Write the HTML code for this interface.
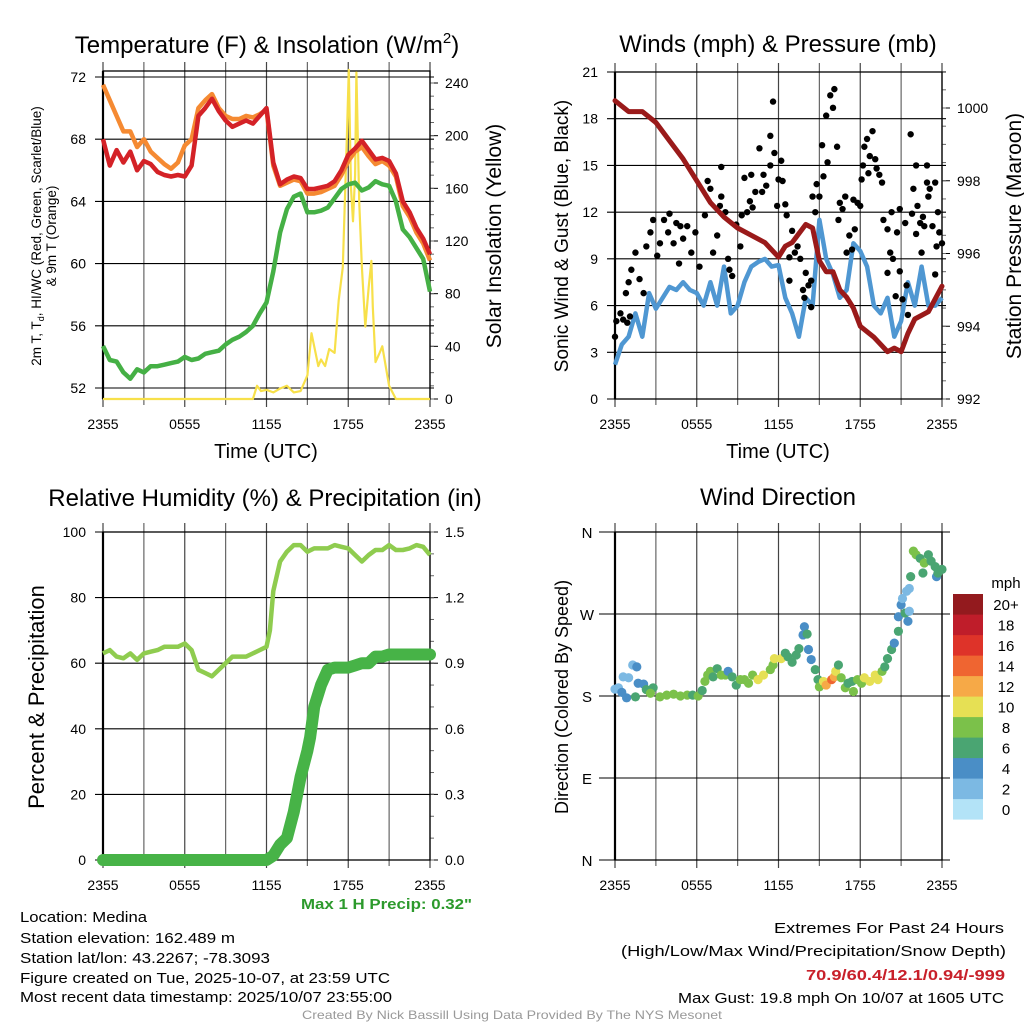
<!DOCTYPE html>
<html><head><meta charset="utf-8"><style>
body{margin:0;background:#fff}svg{display:block}
text{font-family:"Liberation Sans",sans-serif;fill:#000}
</style></head><body>
<svg id="s" width="1024" height="1024" viewBox="0 0 1024 1024">
<g id="g"></g>
<text x="267" y="53" font-size="24" text-anchor="middle">Temperature (F) &amp; Insolation (W/m<tspan font-size="15" dy="-10">2</tspan><tspan dy="10">)</tspan></text>
<text x="778" y="52" font-size="24" text-anchor="middle">Winds (mph) &amp; Pressure (mb)</text>
<text x="265" y="506" font-size="24" text-anchor="middle">Relative Humidity (%) &amp; Precipitation (in)</text>
<text x="778" y="505" font-size="24" text-anchor="middle">Wind Direction</text>
<text x="266" y="458" font-size="20" text-anchor="middle">Time (UTC)</text>
<text x="778" y="458" font-size="20" text-anchor="middle">Time (UTC)</text>
<text transform="translate(41,236) rotate(-90)" font-size="13.5" text-anchor="middle">2m T, T<tspan font-size="9" dy="3">d</tspan><tspan dy="-3">, HI/WC (Red, Green, Scarlet/Blue)</tspan></text>
<text transform="translate(56,236) rotate(-90)" font-size="13.5" text-anchor="middle">&amp; 9m T (Orange)</text>
<text transform="translate(501,236) rotate(-90)" font-size="21" text-anchor="middle">Solar Insolation (Yellow)</text>
<text transform="translate(568,236) rotate(-90)" font-size="19" text-anchor="middle">Sonic Wind &amp; Gust (Blue, Black)</text>
<text transform="translate(1021,236) rotate(-90)" font-size="21" text-anchor="middle">Station Pressure (Maroon)</text>
<text transform="translate(44,697) rotate(-90)" font-size="22" text-anchor="middle">Percent &amp; Precipitation</text>
<text transform="translate(568,697) rotate(-90)" font-size="18" text-anchor="middle">Direction (Colored By Speed)</text>
<text x="301" y="909" font-size="15" font-weight="bold" style="fill:#2c9a2c" textLength="171" lengthAdjust="spacingAndGlyphs">Max 1 H Precip: 0.32"</text>
<g font-size="15">
<text x="20" y="922" textLength="127" lengthAdjust="spacingAndGlyphs">Location: Medina</text>
<text x="20" y="943" textLength="215" lengthAdjust="spacingAndGlyphs">Station elevation: 162.489 m</text>
<text x="20" y="963" textLength="250" lengthAdjust="spacingAndGlyphs">Station lat/lon: 43.2267; -78.3093</text>
<text x="20" y="983" textLength="370" lengthAdjust="spacingAndGlyphs">Figure created on Tue, 2025-10-07, at 23:59 UTC</text>
<text x="20" y="1002" textLength="372" lengthAdjust="spacingAndGlyphs">Most recent data timestamp: 2025/10/07 23:55:00</text>
</g>
<g font-size="15" text-anchor="end">
<text x="1004" y="933" textLength="230" lengthAdjust="spacingAndGlyphs">Extremes For Past 24 Hours</text>
<text x="1006" y="956" textLength="385" lengthAdjust="spacingAndGlyphs">(High/Low/Max Wind/Precipitation/Snow Depth)</text>
<text x="1005" y="980" font-weight="bold" style="fill:#c8202a" textLength="199" lengthAdjust="spacingAndGlyphs">70.9/60.4/12.1/0.94/-999</text>
<text x="1004" y="1003" textLength="326" lengthAdjust="spacingAndGlyphs">Max Gust: 19.8 mph On 10/07 at 1605 UTC</text>
</g>
<text x="512" y="1019" font-size="12" text-anchor="middle" style="fill:#999" textLength="420" lengthAdjust="spacingAndGlyphs">Created By Nick Bassill Using Data Provided By The NYS Mesonet</text>
</svg>
<script>
const hh=[0,0.5,1,1.5,2,2.5,3,3.5,4,4.5,5,5.5,6,6.5,7,7.5,8,8.5,9,9.5,10,10.5,11,11.5,12,12.5,13,13.5,14,14.5,15,15.5,16,16.5,17,17.5,18,18.5,19,19.5,20,20.5,21,21.5,22,22.5,23,23.5,24];
const tempRed=[68.0,66.3,67.3,66.5,67.2,66.0,66.6,66.4,65.9,65.7,65.6,65.7,65.6,66.3,69.5,70.0,70.6,69.8,69.2,68.8,69.0,69.2,69.0,69.5,70.0,66.5,65.1,65.4,65.6,65.5,64.8,64.8,64.9,65.0,65.3,66.0,67.0,67.4,67.9,67.3,66.7,66.8,66.6,65.8,64.0,63.3,62.3,61.6,60.6];
const tempOrange=[71.5,70.5,69.5,68.5,68.5,67.5,68.0,67.2,66.8,66.4,66.1,66.5,67.6,68.0,70.0,70.5,70.9,70.0,69.5,69.3,69.3,69.5,69.4,69.6,69.9,66.3,65.0,65.2,65.4,65.3,64.5,64.5,64.6,64.8,65.0,65.7,66.6,67.2,67.5,66.9,66.4,66.6,66.3,65.6,63.7,63.0,62.0,61.3,60.2];
const dewGreen=[54.7,53.8,53.7,53.0,52.6,53.2,53.0,53.4,53.4,53.5,53.6,53.7,54.0,53.8,53.9,54.2,54.3,54.4,54.8,55.1,55.3,55.6,56.0,56.8,57.5,59.5,62.0,63.5,64.3,64.5,63.3,63.3,63.4,63.6,64.2,64.8,65.1,65.2,64.7,64.9,65.3,65.1,65.0,64.0,62.2,61.7,61.0,60.3,58.2];
const solarT=[0,11,11.3,11.6,12,12.5,13,13.5,14,14.5,15,15.3,15.5,15.8,16,16.3,16.6,17,17.3,17.6,17.9,18.04,18.2,18.35,18.5,18.6,18.8,19,19.25,19.5,19.7,19.8,20,20.3,20.5,21,21.5,24];
const solarV=[0,0,10,6,7,5,8,10,5,6,18,50,40,25,30,25,38,35,75,100,200,250,160,135,170,248,150,100,55,85,105,70,28,35,40,10,0,0];
const windT=hh;
const windV=[2.2,3.5,4.0,5.5,4.0,6.8,5.8,6.5,7.2,7.0,7.5,7.0,6.8,6.0,7.5,6.0,8.5,5.5,6.0,7.5,8.5,8.8,9.0,8.5,8.6,6.5,5.5,4.0,6.5,6.0,11.5,9.0,8.0,6.5,7.0,10.0,9.5,8.5,6.0,5.5,6.5,4.0,5.0,7.5,6.0,8.5,6.0,6.0,6.5];
const presT=[0,1,2,3,4,5,6,7,8,9,10,11,12,12.5,13,14,14.5,15,15.5,16,16.5,17,17.5,18,19,20,20.5,21,21.5,22,23,24];
const presV=[1000.2,999.9,999.9,999.6,999.1,998.6,998.0,997.4,997.0,996.7,996.5,996.3,995.9,996.2,996.3,996.8,996.7,995.8,995.5,995.5,995.0,994.8,994.5,994.0,993.7,993.3,993.4,993.3,993.8,994.2,994.4,995.1];
const gustT=[0,0.1,0.4,0.6,0.9,1.1,0.8,1.0,1.5,1.2,1.8,2.1,2.3,2.6,2.8,3.1,3.3,3.6,3.9,4.0,4.3,4.5,4.8,5.0,4.7,5.3,5.6,5.9,6.2,6.6,6.8,7.0,7.2,7.5,7.7,7.8,7.8,8.1,8.3,8.4,8.6,8.9,9.2,9.3,9.5,9.7,9.9,10.0,10.1,10.3,10.6,10.8,10.9,11.1,11.4,11.4,11.6,11.7,11.9,12.0,12.2,12.3,12.5,12.6,12.8,12.8,13.0,13.2,13.4,13.6,13.8,13.9,14.0,14.2,14.4,14.4,14.5,14.7,14.8,15.0,15.2,15.3,15.5,15.6,15.8,16.0,16.1,16.3,16.4,16.5,16.7,16.9,17.0,17.2,17.4,17.5,17.6,17.8,18.0,18.1,18.2,18.3,18.5,18.6,18.7,18.9,19.1,19.2,19.4,19.6,19.7,20.0,20.0,20.2,20.3,20.4,20.6,20.7,20.9,20.9,21.1,21.3,21.4,21.5,21.7,21.8,21.9,22.1,22.1,22.2,22.4,22.5,22.6,22.7,22.9,22.9,23.0,23.1,23.3,23.5,23.5,23.6,23.7,23.8,24.0];
const gustV=[4.0,5.0,5.5,5.1,4.9,5.3,6.8,7.5,9.4,8.3,7.7,6.8,9.8,10.7,11.5,9.2,10.0,11.5,10.7,11.9,10.0,11.3,11.1,10.3,8.7,11.1,9.4,10.7,8.5,11.8,14.0,13.5,9.4,10.5,12.4,13.0,14.9,12.0,9.0,8.3,7.9,11.2,9.8,11.8,14.2,12.0,12.7,14.4,12.3,13.3,16.1,13.3,14.4,13.7,16.9,15.0,19.1,15.8,12.4,14.1,15.3,14.0,12.5,11.8,9.1,7.6,10.8,9.4,9.8,9.0,7.0,6.5,8.1,7.3,7.6,5.9,13.0,12.0,13.8,13.0,16.3,14.3,18.2,15.2,19.5,18.7,19.9,16.2,11.5,12.6,12.2,13.0,9.4,10.5,9.6,12.8,10.9,12.6,12.4,14.1,15.0,16.2,16.7,14.5,15.6,17.2,15.4,14.8,14.4,13.9,11.5,10.9,8.1,9.4,12.0,9.0,6.6,10.7,12.2,8.2,6.4,11.3,7.3,5.4,17.0,11.9,13.5,10.6,15.0,12.4,11.3,9.4,11.7,11.1,13.9,15.0,13.0,13.5,11.1,13.9,8.0,9.8,12.0,10.7,10.0];
const rhT=[0,0.5,1,1.5,2,2.5,3,3.5,4,4.5,5,5.5,6,6.5,7,7.5,8,8.5,9,9.5,10,10.5,11,11.5,12,12.25,12.5,13,13.5,14,14.5,15,15.5,16,16.5,17,17.5,18,18.5,19,19.5,20,20.5,21,21.5,22,22.5,23,23.5,24];
const rhV=[63,64,62,61.5,63,61,63,63.5,64,65,65,65,66,64,58,57,56,58,60,62,62,62,63,64,65,70,82,91,94,96,96,94,95,95,95,96,95.5,95,93,91,93,94.5,94.5,96,94.5,94.5,95,96,95.5,93];
const prT=[0,12,12.5,13,13.5,14,14.5,15,15.2,15.5,16,16.5,17,17.5,18,18.5,19,19.5,20,20.5,21,22,23,24];
const prV=[0,0,0.02,0.07,0.10,0.22,0.38,0.50,0.56,0.70,0.80,0.87,0.88,0.88,0.88,0.89,0.90,0.90,0.93,0.93,0.94,0.94,0.94,0.94];
const dirT=[0,0.25,0.6,1.0,1.3,1.6,0.85,0.5,1.5,1.7,2.1,2.3,2.8,2.6,3.3,3.8,4.3,4.8,5.3,5.7,6.1,6.4,6.6,6.8,7.0,7.2,7.5,7.8,8.1,8.3,8.6,8.9,9.2,9.5,9.8,10.1,10.5,10.9,11.4,11.6,11.7,12.2,12.5,12.7,13.0,13.3,13.5,13.8,13.9,14.1,14.2,14.4,14.7,14.9,15.0,15.3,15.5,15.9,16.1,16.2,16.4,16.6,16.9,17.1,17.4,17.5,17.8,18.1,18.3,18.7,19.1,19.3,19.6,19.8,20.0,20.3,20.5,20.8,20.8,21.0,21.1,21.4,21.6,21.3,21.5,21.6,21.7,21.9,22.1,22.4,22.6,22.7,23.0,23.2,23.5,23.6,23.7,24.0];
const dirV=[187.5,189,201,200,214,212,178,184,179,194,193,187,189,183,179,181,182,180,181,181,180,186,196,203,207,201,210,203,203,207,201,192,198,198,194,203,198,203,209,214,221,221,227,223,217,225,232,247,256,248,231,220,209,198,190,196,192,198,201,207,214,200,189,194,196,185,198,194,200,196,203,198,207,212,221,231,238,251,267,280,287,295,298,271,262,273,311,339,335,331,315,326,335,328,322,311,315,319];
const dirSpd=[3,2,2,2,2,4,4,4,6,4,4,6,6,8,8,8,8,8,8,6,8,6,8,8,8,6,6,8,8,4,6,6,8,8,8,8,10,10,8,8,10,10,6,6,6,6,6,4,4,6,4,4,6,6,8,10,12,14,12,10,6,8,8,6,6,8,8,8,10,10,10,10,8,6,6,6,4,6,4,4,2,2,2,6,4,2,6,8,8,6,6,8,6,6,6,4,6,6];
const speedLabels=['0','2','4','6','8','10','12','14','16','18','20+'];
const speedColors=['#b3e3f7','#7cb9e3','#4a8ec6','#4aa572','#7bc14a','#e6e054','#f6a947','#ef6531','#de3329','#bf1d2a','#931a1e'];
const timeLabels=['2355','0555','1155','1755','2355'];
const tempTicks=[52,56,60,64,68,72], solarTicks=[0,40,80,120,160,200,240];
const windTicks=[0,3,6,9,12,15,18,21], presTicks=[992,994,996,998,1000];
const rhTicks=[0,20,40,60,80,100], prTicks=['0.0','0.3','0.6','0.9','1.2','1.5'];
const dirLabels=['N','E','S','W','N'];

const NS='http://www.w3.org/2000/svg', G=document.getElementById('g');
function mk(tag,attrs,parent){const e=document.createElementNS(NS,tag);for(const k in attrs)e.setAttribute(k,attrs[k]);(parent||G).appendChild(e);return e;}
function txt(x,y,s,anchor,size,parent){const e=mk('text',{x:x,y:y,'text-anchor':anchor,'font-size':size||14},parent);e.textContent=s;return e;}
function lin(a,b){return v=>a[1]+(v-a[0])*(b[1]-a[1])/(b[0]-a[0]);}
function pathOf(xs,ys,fx,fy){return xs.map((t,i)=>(i?'L':'M')+fx(t).toFixed(1)+','+fy(ys[i]).toFixed(1)).join('');}

function frame(L,R,T,B,name){
  const g=mk('g',{});
  
  
  const fx=lin([0,L],[24,R]);
  for(let i=0;i<=8;i++){const x=fx(i*3);
    const l=mk('line',{x1:x,x2:x,y1:T-9,y2:B+(i%2?6:8),stroke:i%2?'#666':'#444','stroke-width':1.2},g);
    
    
    if(i%2==0){const t=txt(x,B+30,timeLabels[i/2],'middle',14,g);
      
      }
  }
  return {g:g,fx:fx};
}
function hgrid(g,y,L,R,name){const l=mk('line',{x1:L-8,x2:R+4,y1:y,y2:y,stroke:'#000','stroke-width':1.1},g);
  
  }
function box(g,L,R,T,B){mk('rect',{x:L,y:T,width:R-L,height:B-T,fill:'none',stroke:'#000','stroke-width':1.3},g);mk('line',{x1:L,x2:L,y1:T,y2:B,stroke:'#000','stroke-width':2.2},g);}
function minor(g,R,fy,lo,hi,step){for(let v=lo;v<=hi+1e-9;v+=step)mk('line',{x1:R,x2:R+4,y1:fy(v),y2:fy(v),stroke:'#666','stroke-width':1},g);}

(function(){
  const L=103,R=430,T=71,B=399;
  const f=frame(L,R,T,B,'temperature-panel'),g=f.g,fx=f.fx;
  const fy=lin([52,388],[72,77]), fs=lin([0,399],[240,83]);
  tempTicks.forEach(v=>{hgrid(g,fy(v),L,R,'temp-gridline');const t=txt(L-17,fy(v)+5,String(v),'end',14,g);
    
    });
  solarTicks.forEach(v=>{mk('line',{x1:R,x2:R+8,y1:fs(v),y2:fs(v),stroke:'#000'},g);const t=txt(R+15,fs(v)+5,String(v),'start',14,g);
    
    });
  minor(g,R,fs,0,240,10);
  box(g,L,R,T,B);
  const sl=mk('path',{d:pathOf(solarT,solarV,fx,fs),fill:'none',stroke:'#f7e04a','stroke-width':2.2,'stroke-linejoin':'round'},g);
  
  
  const gl=mk('path',{d:pathOf(hh,dewGreen,fx,fy),fill:'none',stroke:'#45b045','stroke-width':4.5,'stroke-linejoin':'round'},g);
  
  
  const ol=mk('path',{d:pathOf(hh,tempOrange,fx,fy),fill:'none',stroke:'#f58a32','stroke-width':4.5,'stroke-linejoin':'round'},g);
  
  
  const rl=mk('path',{d:pathOf(hh,tempRed,fx,fy),fill:'none',stroke:'#d42227','stroke-width':4.5,'stroke-linejoin':'round'},g);
  
  
})();

(function(){
  const L=615,R=942,T=72,B=399;
  const f=frame(L,R,T,B,'winds-panel'),g=f.g,fx=f.fx;
  const fy=lin([0,399],[21,72]), fp=lin([992,399],[1000,108]);
  windTicks.forEach(v=>{hgrid(g,fy(v),L,R,'wind-gridline');const t=txt(L-17,fy(v)+5,String(v),'end',14,g);
    
    });
  presTicks.forEach(v=>{mk('line',{x1:R,x2:R+8,y1:fp(v),y2:fp(v),stroke:'#000'},g);const t=txt(R+15,fp(v)+5,String(v),'start',14,g);
    
    });
  minor(g,R,fp,992,1001,0.5);
  box(g,L,R,T,B);
  const bl=mk('path',{d:pathOf(windT,windV,fx,fy),fill:'none',stroke:'#4f97d2','stroke-width':4.5,'stroke-linejoin':'round'},g);
  
  
  gustT.forEach((t,i)=>{const c=mk('circle',{cx:fx(t),cy:fy(gustV[i]),r:3.2,fill:'#000'},g);
    
    });
  const pl=mk('path',{d:pathOf(presT,presV,fx,fp),fill:'none',stroke:'#9a1a1a','stroke-width':5,'stroke-linejoin':'round','stroke-linecap':'round'},g);
  
  
})();

(function(){
  const L=103,R=430,T=532,B=860;
  const f=frame(L,R,T,B,'humidity-panel'),g=f.g,fx=f.fx;
  const fy=lin([0,B],[100,T]), fp=lin([0,B],[1.5,T]);
  rhTicks.forEach(v=>{hgrid(g,fy(v),L,R,'rh-gridline');const t=txt(L-17,fy(v)+5,String(v),'end',14,g);
    
    });
  prTicks.forEach(v=>{mk('line',{x1:R,x2:R+8,y1:fp(+v),y2:fp(+v),stroke:'#000'},g);const t=txt(R+15,fp(+v)+5,v,'start',14,g);
    
    });
  minor(g,R,fp,0,1.5,0.1);
  box(g,L,R,T,B);
  const hl=mk('path',{d:pathOf(rhT,rhV,fx,fy),fill:'none',stroke:'#8fcc4f','stroke-width':4.5,'stroke-linejoin':'round'},g);
  
  
  const pl=mk('path',{d:pathOf(prT,prV,fx,fp),fill:'none',stroke:'#47b347','stroke-width':12,'stroke-linejoin':'round','stroke-linecap':'round'},g);
  
  
})();

(function(){
  const L=615,R=942,T=532,B=860;
  const f=frame(L,R,T,B,'direction-panel'),g=f.g,fx=f.fx;
  const fy=lin([0,B],[360,T]);
  dirLabels.forEach((s,i)=>{const y=fy(i*90);mk('line',{x1:L-16,x2:R+8,y1:y,y2:y,stroke:'#000','stroke-width':1.1},g);
    const t=txt(L-28,y+6,s,'middle',15,g);
    
    });
  box(g,L,R,T,B);
  dirT.forEach((t,i)=>{const k=Math.min(10,Math.floor(dirSpd[i]/2));
    const c=mk('circle',{cx:fx(t),cy:fy(dirV[i]),r:4.6,fill:speedColors[k]},g);
    
    });
  const lg=mk('g',{},g);
  
  
  txt(1006,588,'mph','middle',15,lg);
  speedLabels.forEach((s,i)=>{const y=594+(10-i)*20.5;
    const r=mk('rect',{x:953,y:y,width:30,height:20.6,fill:speedColors[i]},lg);
    
    
    const t=txt(1006,y+16,s,'middle',15,lg);
    
    });
})();
</script>
</body></html>
